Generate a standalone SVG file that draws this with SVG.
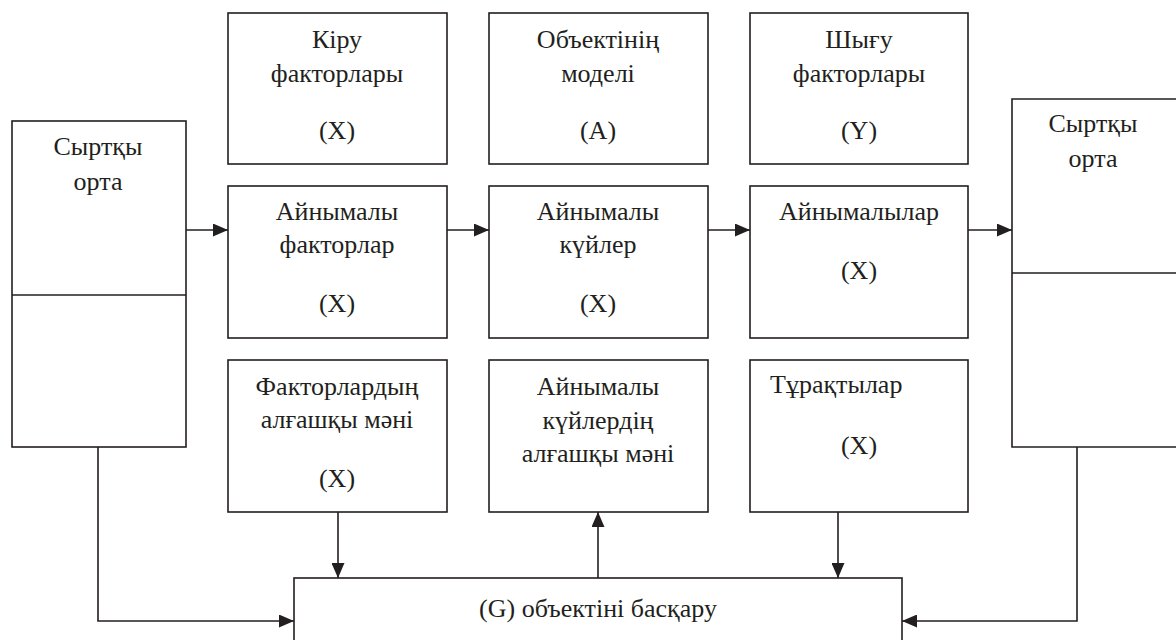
<svg xmlns="http://www.w3.org/2000/svg" width="1176" height="640" viewBox="0 0 1176 640">
<style>
.b{fill:#fff;stroke:#231f20;stroke-width:1.6}
.l{fill:none;stroke:#231f20;stroke-width:1.6}
.t{font-family:"Liberation Serif","Times New Roman",serif;font-size:26px;fill:#231f20;text-anchor:middle}
.s{text-anchor:start}
</style>
<defs>
<marker id="ah" viewBox="0 0 15 13" refX="15" refY="6.5" markerWidth="15" markerHeight="13" markerUnits="userSpaceOnUse" orient="auto">
<path d="M0,0 L15,6.5 L0,13 Z" fill="#231f20"/>
</marker>
</defs>
<rect width="1176" height="640" fill="#fff"/>
<g id="connectors">
<line class="l" x1="186" y1="230" x2="228" y2="230" marker-end="url(#ah)"/>
<line class="l" x1="447" y1="230" x2="489" y2="230" marker-end="url(#ah)"/>
<line class="l" x1="708" y1="230" x2="750" y2="230" marker-end="url(#ah)"/>
<line class="l" x1="968" y1="230" x2="1012" y2="230" marker-end="url(#ah)"/>
<polyline class="l" points="98,447 98,621 294,621" marker-end="url(#ah)"/>
<polyline class="l" points="1077,447 1077,621 902,621" marker-end="url(#ah)"/>
<line class="l" x1="338" y1="512" x2="338" y2="578" marker-end="url(#ah)"/>
<line class="l" x1="598" y1="578" x2="598" y2="512" marker-end="url(#ah)"/>
<line class="l" x1="838" y1="512" x2="838" y2="578" marker-end="url(#ah)"/>
</g>
<g id="env-left">
<rect class="b" x="12" y="121" width="174" height="326"/>
<line class="l" x1="12" y1="295" x2="186" y2="295"/>
<text class="t" x="98" y="155">Сыртқы</text>
<text class="t" x="98" y="190">орта</text>
</g>
<g id="env-right">
<path class="l" d="M1176,99 L1012,99 L1012,447 L1176,447 M1012,273 L1176,273"/>
<text class="t" x="1093" y="132">Сыртқы</text>
<text class="t" x="1093" y="167">орта</text>
</g>
<g id="input-factors">
<rect class="b" x="228" y="13" width="219" height="151"/>
<text class="t" x="337" y="48">Кіру</text>
<text class="t" x="337" y="82">факторлары</text>
<text class="t" x="337" y="139">(X)</text>
</g>
<g id="object-model">
<rect class="b" x="489" y="13" width="219" height="151"/>
<text class="t" x="598" y="48">Объектінің</text>
<text class="t" x="598" y="82">моделі</text>
<text class="t" x="598" y="139">(A)</text>
</g>
<g id="output-factors">
<rect class="b" x="750" y="13" width="218" height="151"/>
<text class="t" x="859" y="48">Шығу</text>
<text class="t" x="859" y="82">факторлары</text>
<text class="t" x="859" y="139">(Y)</text>
</g>
<g id="var-factors">
<rect class="b" x="228" y="186" width="219" height="152"/>
<text class="t" x="337" y="220">Айнымалы</text>
<text class="t" x="337" y="253">факторлар</text>
<text class="t" x="337" y="312">(X)</text>
</g>
<g id="var-states">
<rect class="b" x="489" y="186" width="219" height="152"/>
<text class="t" x="598" y="220">Айнымалы</text>
<text class="t" x="598" y="253">күйлер</text>
<text class="t" x="598" y="312">(X)</text>
</g>
<g id="variables">
<rect class="b" x="750" y="186" width="218" height="152"/>
<text class="t" x="859" y="220">Айнымалылар</text>
<text class="t" x="859" y="279">(X)</text>
</g>
<g id="factor-initial">
<rect class="b" x="228" y="360" width="219" height="152"/>
<text class="t" x="337" y="395">Факторлардың</text>
<text class="t" x="337" y="428">алғашқы мәні</text>
<text class="t" x="337" y="487">(X)</text>
</g>
<g id="state-initial">
<rect class="b" x="489" y="360" width="219" height="152"/>
<text class="t" x="598" y="395">Айнымалы</text>
<text class="t" x="598" y="429">күйлердің</text>
<text class="t" x="598" y="462">алғашқы мәні</text>
</g>
<g id="constants">
<rect class="b" x="750" y="360" width="218" height="152"/>
<text class="t s" x="770" y="393">Тұрақтылар</text>
<text class="t" x="859" y="454">(X)</text>
</g>
<g id="control">
<rect class="b" x="294" y="578" width="608" height="70"/>
<text class="t" x="598" y="617">(G) объектіні басқару</text>
</g>
</svg>
